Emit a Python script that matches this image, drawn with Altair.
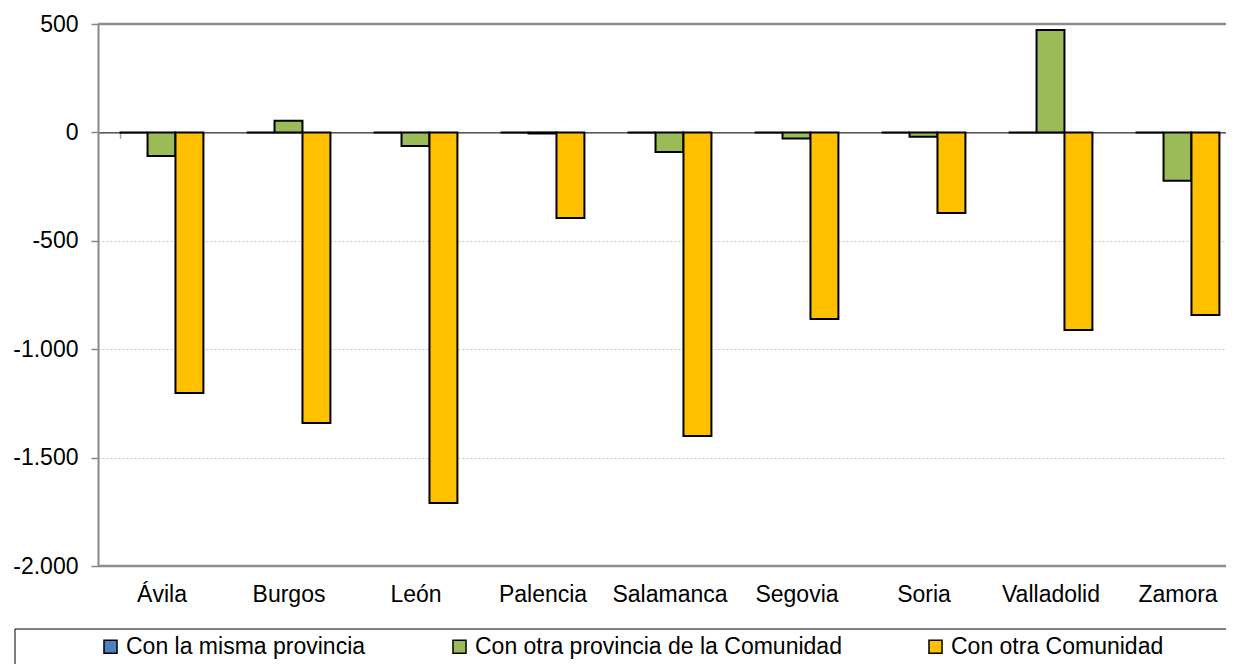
import altair as alt
import pandas as pd

provincias = ["Ávila", "Burgos", "León", "Palencia", "Salamanca", "Segovia", "Soria", "Valladolid", "Zamora"]
series = ["Con la misma provincia", "Con otra provincia de la Comunidad", "Con otra Comunidad"]
misma_provincia = [0, 0, 0, 0, 0, 0, 0, 0, 0]
otra_provincia = [-109, 54, -63, -5, -90, -28, -20, 472, -223]
otra_comunidad = [-1202, -1340, -1709, -395, -1400, -861, -372, -911, -842]
colores = ["#4F81BD", "#9BBB59", "#FFC000"]
y_ticks = [-2000, -1500, -1000, -500, 0, 500]

rows = []
for vals, s in zip([misma_provincia, otra_provincia, otra_comunidad], series):
    for p, v in zip(provincias, vals):
        rows.append({"provincia": p, "serie": s, "valor": v})
df = pd.DataFrame(rows)

FONT = "Liberation Sans"
W, H = 1128, 542
zero_from_bottom = H * 2000 / 2500

bars = alt.Chart(df).mark_bar(stroke="black", strokeWidth=2).encode(
    x=alt.X(
        "provincia:N",
        sort=provincias,
        scale=alt.Scale(range=[0, 1143], paddingInner=0.34, paddingOuter=0.17),
        axis=alt.Axis(
            title=None,
            orient="bottom",
            offset=-zero_from_bottom,
            domainColor="black",
            domainWidth=1,
            tickColor="#a0a0a0",
            tickWidth=1.5,
            tickSize=6,
            tickBand="extent",
            labelPadding=445,
            labelAngle=0,
            labelFont=FONT,
            labelFontSize=23,
            labelColor="black",
            grid=False,
        ),
    ),
    xOffset=alt.XOffset("serie:N", sort=series, scale=alt.Scale(paddingInner=0, paddingOuter=0)),
    y=alt.Y(
        "valor:Q",
        scale=alt.Scale(domain=[-2000, 500], nice=False, zero=False),
        axis=alt.Axis(
            title=None,
            values=y_ticks,
            labelExpr="(datum.value < 0 ? '-' : '') + replace(format(abs(datum.value), ','), ',', '.')",
            labelFont=FONT,
            labelFontSize=23,
            labelColor="black",
            labelPadding=13,
            tickSize=7,
            tickColor="#888888",
            tickWidth=1.5,
            domainColor="#888888",
            domainWidth=2,
            grid=True,
            gridColor="#c8c8c8",
            gridDash=[2, 2],
            gridWidth=1,
        ),
    ),
    color=alt.Color(
        "serie:N",
        sort=series,
        scale=alt.Scale(domain=series, range=colores),
        legend=alt.Legend(
            title=None,
            orient="none",
            legendX=1,
            legendY=611,
            direction="horizontal",
            padding=0,
            columnPadding=82,
            symbolType="square",
            symbolSize=170,
            symbolStrokeColor="black",
            symbolStrokeWidth=1.5,
            labelFont=FONT,
            labelFontSize=23,
            labelColor="black",
            labelOffset=4,
            labelLimit=0,
        ),
    ),
)

top_border = alt.Chart(pd.DataFrame({"v": [500]})).mark_rule(color="#8c8c8c", strokeWidth=2.5).encode(y=alt.Y("v:Q"))
bottom_border = alt.Chart(pd.DataFrame({"v": [-2000]})).mark_rule(color="#8c8c8c", strokeWidth=2.5).encode(y=alt.Y("v:Q"))
legend_box = alt.Chart(pd.DataFrame({"a": [0]})).mark_rect(filled=False, stroke="black", strokeWidth=1).encode(
    x=alt.value(-83), x2=alt.value(1200), y=alt.value(605), y2=alt.value(700)
)

chart = (
    alt.layer(bars, top_border, bottom_border, legend_box)
    .properties(
        width=W,
        height=H,
        autosize=alt.AutoSizeParams(type="none"),
        padding={"left": 90, "top": 16, "right": 0, "bottom": 98},
    )
    .configure(font=FONT)
    .configure_view(stroke="transparent", strokeWidth=0)
)

chart.save("out.html", embed_options={"renderer": "svg", "actions": False})
